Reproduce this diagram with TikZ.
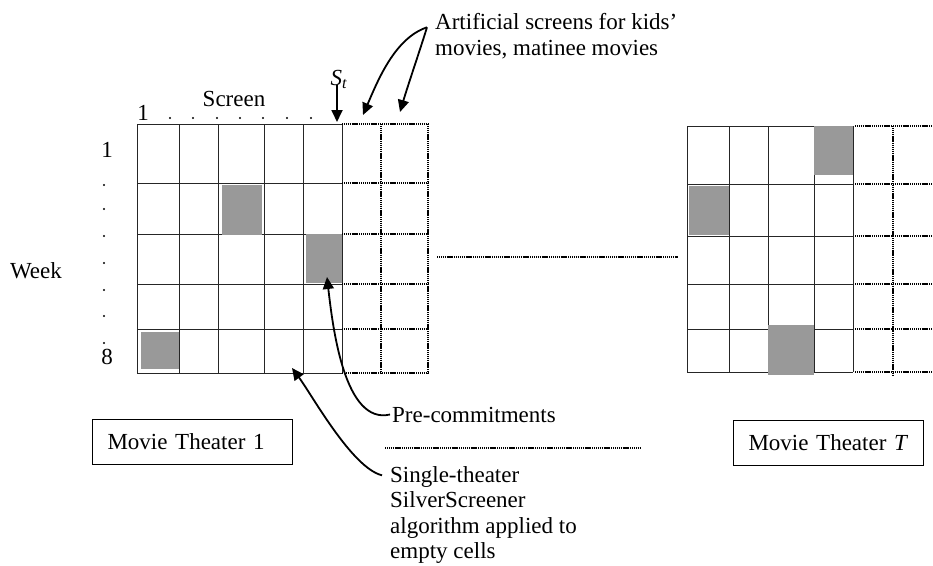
\documentclass[tikz,border=0pt]{standalone}
\usepackage{fontspec}
\setmainfont{Liberation Serif}
\usetikzlibrary{arrows.meta}
\begin{document}
\begin{tikzpicture}[x=1pt,y=-1pt,
  txt/.style={font=\fontsize{23}{25.5}\selectfont, inner sep=0pt},
  gridline/.style={line width=1pt, draw=black!85},
  dotline/.style={line width=1.6pt, dash pattern=on 1.2pt off 0.7pt},
  cellfill/.style={fill=black!40},
  arr/.style={line width=1.8pt, -{Triangle[length=12pt,width=11pt]}},
  theaterbox/.style={txt, draw, line width=1pt, anchor=west,
    inner xsep=15pt, minimum height=45pt, text width=#1, align=left},
  smalldot/.style={fill=black}
]
\useasboundingbox (0,0) rectangle (933,565);

% ---- theater 1: regular screens (solid) and artificial screens (dotted)
\foreach \y in {124,183,234,284,329,373}
  \draw[gridline] (137,\y) -- (342,\y);
\foreach \x in {137,179,218,264,303,342}
  \draw[gridline] (\x,124) -- (\x,373);
\foreach \y in {124,183,234,284,329,373}
  \draw[dotline] (342,\y) -- (428,\y);
\foreach \x in {381,428}
  \draw[dotline] (\x,124) -- (\x,373);
% pre-committed cells
\fill[cellfill] (222,185) rectangle (262,235);
\fill[cellfill] (306,234) rectangle (342,283);
\fill[cellfill] (141,332) rectangle (179,369);

% ---- theater T
\foreach \y in {126,184,236,284,329,372}
  \draw[gridline] (687,\y) -- (853,\y);
\foreach \x in {687,729,768,814,853}
  \draw[gridline] (\x,126) -- (\x,372);
\foreach \y in {126,184,236,284,329,372}
  \draw[dotline] (855,\y) -- (933,\y);
\draw[dotline] (893,126) -- (893,375);
\fill[cellfill] (814,126) rectangle (853,175);
\fill[cellfill] (689,186) rectangle (729,235);
\fill[cellfill] (768,325) rectangle (814,375);

% ---- theaters in between
\draw[dotline] (437,257) -- (678,257);
\draw[dotline] (385,448) -- (641,448);

% ---- axis labels
\node[txt] (week) at (36,271) {Week};
\node[txt] (wk1) at (107,150) {1};
\node[txt] (wk8) at (107,357) {8};
\foreach \y in {185,209,236,263,290,316,343}
  \fill[smalldot] (104,\y) circle (1.2pt);
\node[txt] (sc1) at (143,113) {1};
\node[txt] (screen) at (234,99) {Screen};
\foreach \x in {170,193,217,240,263,287,311}
  \fill[smalldot] (\x,118) circle (1.2pt);
\node[txt, anchor=base] (st) at (339,85) {\textit{S}\textsubscript{\textit{t}}};
\coordinate (sttip) at (337,122);
\draw[arr] ([xshift=-2pt]st.base) -- (sttip);

% ---- annotations
\node[txt, anchor=north west, align=left] (art) at (435,13.3)
  {Artificial screens for kids’\\movies, matinee movies};
\coordinate (artA) at (363,115);
\coordinate (artB) at (400,112);
\draw[arr] ([xshift=-8pt,yshift=-14pt]art.north west)
  .. controls (395,38) and (378,80) .. (artA);
\draw[arr] ([xshift=-8pt,yshift=-14pt]art.north west)
  .. controls (420,50) and (408,85) .. (artB);

\node[txt, anchor=base west] (pre) at (392,422) {Pre-commitments};
\coordinate (pretip) at (327,277);
\draw[arr] ([xshift=-2pt]pre.west)
  .. controls (345,425) and (333,330) .. (pretip);

\node[txt, anchor=north west, align=left] (single) at (390,466.3)
  {Single-theater\\SilverScreener\\algorithm applied to\\empty cells};
\coordinate (singletip) at (292,368);
\draw[arr] ([xshift=-8pt,yshift=-9pt]single.north west)
  .. controls (352,468) and (312,395) .. (singletip);

% ---- theater captions
\node[theaterbox=170pt] (mt1) at (92,441.5) {Movie Theater 1};
\node[theaterbox=160pt] (mtT) at (733,442.5) {Movie Theater \textit{T}};
\end{tikzpicture}
\end{document}
